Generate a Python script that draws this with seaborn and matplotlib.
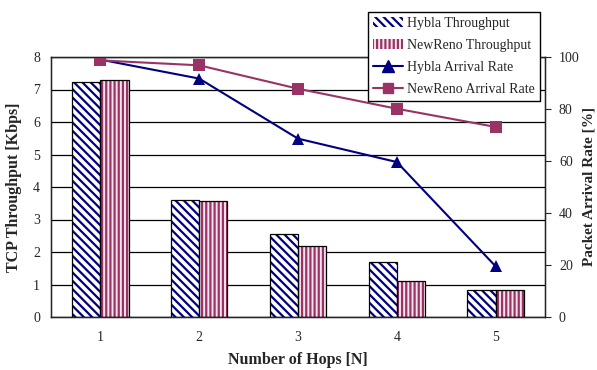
import matplotlib
matplotlib.use('Agg')
import matplotlib.pyplot as plt
from matplotlib.patches import Patch, Rectangle
from matplotlib.lines import Line2D
import seaborn as sns
import pandas as pd

hops = [1, 2, 3, 4, 5]
hybla_tput = [7.23, 3.60, 2.56, 1.68, 0.84]
newreno_tput = [7.30, 3.57, 2.20, 1.10, 0.84]
hybla_rate = [99.0, 91.7, 68.6, 59.6, 19.5]
newreno_rate = [98.7, 96.8, 87.8, 80.1, 73.1]

navy = '#000080'
maroon = '#993366'

sns.set_style('white')
plt.rcParams['font.family'] = ['Liberation Serif', 'DejaVu Serif']
plt.rcParams['hatch.linewidth'] = 1.6

df = pd.DataFrame({
    'hops': hops * 2,
    'tput': hybla_tput + newreno_tput,
    'proto': ['Hybla Throughput'] * 5 + ['NewReno Throughput'] * 5,
})
df_rate = pd.DataFrame({
    'pos': list(range(5)) * 2,
    'rate': hybla_rate + newreno_rate,
    'proto': ['Hybla Arrival Rate'] * 5 + ['NewReno Arrival Rate'] * 5,
})

fig = plt.figure(figsize=(5.97, 3.70), dpi=100)
ax = fig.add_axes([51 / 597, 1 - 317 / 370, 494 / 597, 260 / 370])

sns.barplot(data=df, x='hops', y='tput', hue='proto', ax=ax,
            width=0.57, legend=False, saturation=1,
            palette=['white', 'white'])

# hatch colour comes from the edge colour, so redraw a black outline on top
styles = {0: (navy, '\\\\\\\\', 'white'), 1: (maroon, '||||', '#f6e3ec')}
for i, cont in enumerate(ax.containers):
    hc, hatch, fc = styles[i]
    for p in cont:
        p.set_facecolor(fc)
        p.set_edgecolor(hc)
        p.set_hatch(hatch)
        p.set_linewidth(0)
        ax.add_patch(Rectangle(p.get_xy(), p.get_width(), p.get_height(),
                               fill=False, ec='black', lw=0.9, zorder=3))

ax.set_ylim(0, 8)
ax.set_xlim(-0.5, 4.5)
ax.set_yticks(range(0, 9))
ax.yaxis.grid(True, color='black', lw=0.9)
ax.set_axisbelow(True)
ax.tick_params(axis='y', length=0, labelsize=10, pad=8)
ax.tick_params(axis='x', length=0, labelsize=10, pad=10)
ax.set_xticks([0.5, 1.5, 2.5, 3.5], minor=True)
ax.tick_params(axis='x', which='minor', direction='in', length=4, color='black')
ax.set_xlabel('Number of Hops [N]', fontsize=11.5, fontweight='bold', labelpad=6)
ax.set_ylabel('TCP Throughput [Kbps]', fontsize=11.5, fontweight='bold', labelpad=8)
for s in ax.spines.values():
    s.set_color('black')
    s.set_linewidth(1.0)

ax2 = ax.twinx()
sns.lineplot(data=df_rate, x='pos', y='rate', hue='proto', style='proto',
             palette=[navy, maroon], markers=['^', 's'], dashes=False,
             markersize=8, markeredgewidth=0, lw=1.5, ax=ax2, legend=False)
ax2.set_ylim(0, 100)
ax2.set_yticks(range(0, 101, 20))
ax2.tick_params(axis='y', direction='out', length=4, labelsize=10, pad=6)
ax2.set_ylabel('Packet Arrival Rate [%]', fontsize=11, fontweight='bold', labelpad=2)
ax2.set_xlabel('')
ax2.set_xlim(-0.5, 4.5)

handles = [
    Patch(facecolor='white', edgecolor=navy, hatch='\\\\\\\\', lw=0),
    Patch(facecolor='#f6e3ec', edgecolor=maroon, hatch='||||', lw=0),
    Line2D([], [], color=navy, marker='^', markersize=8, lw=1.5),
    Line2D([], [], color=maroon, marker='s', markersize=7, lw=1.5),
]
labels = ['Hybla Throughput', 'NewReno Throughput',
          'Hybla Arrival Rate', 'NewReno Arrival Rate']
leg = fig.legend(handles, labels, loc='upper right',
                 bbox_to_anchor=(540 / 597, 1 - 12 / 370), borderaxespad=0,
                 fontsize=10, frameon=True, fancybox=False,
                 edgecolor='black', framealpha=1, borderpad=0.35,
                 handlelength=2.2, handletextpad=0.3, labelspacing=0.65)
leg.get_frame().set_linewidth(1.0)

fig.savefig('out.png', dpi=100)
